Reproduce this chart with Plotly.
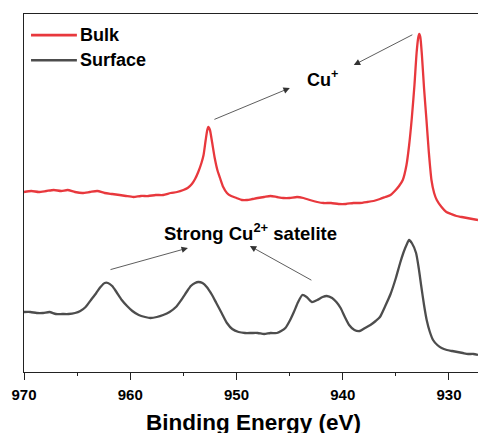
import plotly.graph_objects as go

# ---- data (binding energy in eV, intensity in arbitrary units) ----
bulk_energy = [970.0, 969.3, 968.6, 967.9, 967.2, 966.5, 965.9, 965.2, 964.5, 963.8, 963.1, 962.4,
               961.7, 961.0, 960.4, 959.7, 959.0, 958.3, 957.6, 956.9, 956.2, 955.6, 955.0, 954.6,
               954.2, 953.9, 953.6, 953.3, 953.1, 952.9, 952.75, 952.65, 952.5, 952.3, 952.05, 951.8,
               951.55, 951.25, 950.9, 950.5, 950.0, 949.5, 949.0, 948.5, 948.0, 947.4, 946.8, 946.2,
               945.6, 945.0, 944.3, 943.7, 943.1, 942.4, 941.8, 941.1, 940.4, 939.7, 939.0, 938.4,
               937.7, 937.1, 936.5, 936.0, 935.5, 935.1, 934.7, 934.35, 934.0, 933.75, 933.5, 933.25,
               933.05, 932.9, 932.8, 932.7, 932.55, 932.35, 932.12, 931.9, 931.65, 931.4, 931.15, 930.7,
               930.25, 929.8, 929.3, 928.8, 928.3, 927.8, 927.27]
bulk_intensity = [180, 181, 180, 181, 182, 181, 182, 180, 179, 180, 181, 179,
                  178, 177, 176, 175, 176, 176, 177, 177, 179, 180, 182, 184,
                  188, 193, 200, 209, 217, 232, 242, 245, 242, 230, 214, 202,
                  194, 185, 179, 176, 174, 172, 172, 173, 174, 175, 176, 175,
                  174, 174, 175, 174, 172, 170, 169, 169, 168, 168, 169, 169,
                  170, 171, 173, 175, 177, 181, 186, 192, 207, 227, 254, 287,
                  319, 334, 338, 335, 317, 284, 252, 220, 192, 179, 172, 165,
                  160, 158, 156, 155, 154, 153, 152]

surface_energy = [970.0, 969.4, 968.8, 968.2, 967.6, 967.0, 966.4, 965.8, 965.2, 964.7, 964.2, 963.7,
                  963.2, 962.8, 962.4, 962.1, 961.7, 961.3, 960.8, 960.3, 959.8, 959.2, 958.6, 958.1,
                  957.5, 956.9, 956.3, 955.7, 955.2, 954.7, 954.3, 953.9, 953.6, 953.2, 952.8, 952.3,
                  951.9, 951.4, 950.9, 950.4, 949.8, 949.2, 948.6, 948.0, 947.4, 946.8, 946.2, 945.8,
                  945.4, 945.0, 944.6, 944.2, 943.8, 943.4, 942.9, 942.4, 941.9, 941.5, 941.0, 940.6,
                  940.2, 939.8, 939.4, 938.9, 938.4, 937.9, 937.4, 936.9, 936.5, 936.0, 935.5, 935.0,
                  934.6, 934.3, 934.0, 933.75, 933.5, 933.1, 932.85, 932.6, 932.35, 932.1, 931.8, 931.5,
                  931.1, 930.7, 930.2, 929.7, 929.2, 928.7, 928.2, 927.7, 927.27]
surface_intensity = [60, 60, 59, 59, 60, 58, 58, 58, 59, 61, 65, 72,
                     79, 85, 89, 89, 86, 80, 72, 66, 61, 57, 55, 54,
                     55, 57, 60, 65, 72, 80, 86, 89, 90, 89, 85, 77,
                     69, 59, 49, 43, 40, 39, 39, 39, 38, 39, 39, 41,
                     44, 51, 60, 70, 77, 75, 70, 72, 75, 76, 74, 70,
                     64, 55, 47, 42, 41, 44, 47, 51, 55, 66, 78, 94,
                     109, 119, 127, 132, 129, 119, 104, 85, 67, 52, 40, 32,
                     27, 24, 22, 21, 20, 19, 18, 18, 17]

series_names = ["Bulk", "Surface"]
series_colors = ["#E8383D", "#4D4D4D"]
x_tick_values = [970, 960, 950, 940, 930]
x_range = [970, 927.27]
y_range = [0, 358]

font_family = "Liberation Sans, Arial, sans-serif"

fig = go.Figure()
fig.add_trace(go.Scatter(x=bulk_energy, y=bulk_intensity, mode="lines", name=series_names[0],
                         line=dict(color=series_colors[0], width=2.3, shape="spline", smoothing=0.6),
                         showlegend=False))
fig.add_trace(go.Scatter(x=surface_energy, y=surface_intensity, mode="lines", name=series_names[1],
                         line=dict(color=series_colors[1], width=2.3, shape="spline", smoothing=0.6),
                         showlegend=False))

# manual legend (lines + labels)
legend_rows = [0.941, 0.871]
for name, color, yy in zip(series_names, series_colors, legend_rows):
    fig.add_shape(type="line", xref="paper", yref="paper", x0=0.0155, x1=0.1165, y0=yy, y1=yy,
                  line=dict(color=color, width=2.6))
    fig.add_annotation(xref="paper", yref="paper", x=0.119, y=yy, text=f"<b>{name}</b>",
                       showarrow=False, xanchor="left", yanchor="middle",
                       font=dict(family=font_family, size=18, color="#000"))

arrow_style = dict(showarrow=True, arrowhead=2, arrowsize=1.6, arrowwidth=0.8,
                   arrowcolor="#333", text="", xref="x", yref="y", axref="x", ayref="y")
# Cu+ arrows
fig.add_annotation(x=944.98, y=284, ax=952.22, ay=252, **arrow_style)
fig.add_annotation(x=938.96, y=307, ax=933.31, ay=338, **arrow_style)
# satellite arrows
fig.add_annotation(x=954.57, y=124, ax=962.0, ay=102, **arrow_style)
fig.add_annotation(x=948.74, y=126, ax=942.81, ay=91, **arrow_style)

fig.add_annotation(x=941.87, y=294, xref="x", yref="y", text="<b>Cu<sup>+</sup></b>",
                   showarrow=False, font=dict(family=font_family, size=18, color="#000"))
fig.add_annotation(x=948.7, y=140, xref="x", yref="y", text="<b>Strong Cu<sup>2+</sup> satelite</b>",
                   showarrow=False, font=dict(family=font_family, size=18.5, color="#000"))

# axis title
fig.add_annotation(xref="paper", yref="paper", x=0.505, y=-0.14, text="<b>Binding Energy (eV)</b>",
                   showarrow=False, yanchor="middle",
                   font=dict(family=font_family, size=22.5, color="#000"))

fig.update_xaxes(range=x_range, tickvals=x_tick_values, ticks="outside", ticklen=7, tickwidth=1.3,
                 tickcolor="#222", showline=True, linecolor="#222", linewidth=1.4, mirror=True,
                 showgrid=False, zeroline=False, ticklabelstandoff=2,
                 tickfont=dict(family=font_family, size=15, color="#000", weight="bold"),
                 minor=dict(dtick=5, ticks="outside", ticklen=3, tickwidth=1.3, tickcolor="#222",
                            showgrid=False))
fig.update_yaxes(range=y_range, showline=True, linecolor="#222", linewidth=1.4, mirror=False,
                 showticklabels=False, ticks="", showgrid=False, zeroline=False)

fig.update_layout(width=478, height=433, margin=dict(l=24, r=0, t=14, b=61),
                  plot_bgcolor="white", paper_bgcolor="white", showlegend=False)

fig.write_html("out.html")
